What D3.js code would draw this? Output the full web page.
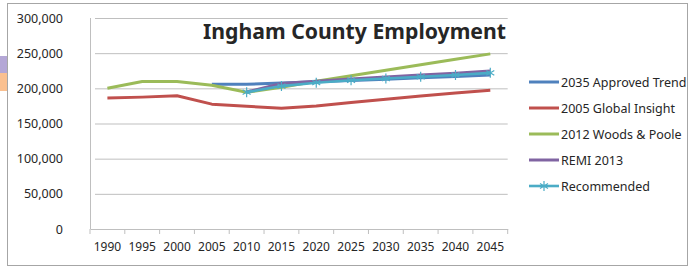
<!DOCTYPE html>
<html>
<head>
<style>
  body {
    margin: 0;
    background-color: #fff;
  }

  text {
    font-family: "Noto Sans", sans-serif;
    fill: #262626;
  }
</style>
  <script src="https://d3js.org/d3.v7.min.js"></script>
</head>
<body>
<script>
// Ingham County Employment - projections by source
const years = [1990, 1995, 2000, 2005, 2010, 2015, 2020, 2025, 2030, 2035, 2040, 2045];
const yTicks = [0, 50000, 100000, 150000, 200000, 250000, 300000];

// null = no value for that year
const approvedTrend = [null, null, null, 205700, 205700, 207500, 209500, 211000, 213000, 215000, 217000, 219000];
const globalInsight = [186300, 187500, 189500, 177500, 174500, 171800, 174800, 180000, 184600, 189000, 193200, 197300];
const woodsPoole = [200000, 209800, 209800, 204500, 194500, 201500, 210000, 218000, 225800, 233500, 241200, 249000];
const remi2013 = [null, null, null, null, 194800, 207000, 210000, 213200, 216000, 218800, 221600, 224500];
const recommended = [null, null, null, null, 194500, 203200, 208000, 211500, 214000, 216500, 219000, 222000];

const series = [
  { name: '2035 Approved Trend', values: approvedTrend, color: '#4f81bd' },
  { name: '2005 Global Insight', values: globalInsight, color: '#c0504d' },
  { name: '2012 Woods & Poole', values: woodsPoole, color: '#9bbb59' },
  { name: 'REMI 2013', values: remi2013, color: '#8064a2' },
  { name: 'Recommended', values: recommended, color: '#4bacc6', marker: true },
];

const width = 690;
const height = 270;
const plot = { left: 90, right: 507.7, top: 18, bottom: 229 };

const svg = d3.select('body')
  .append('svg')
  .attr('width', width)
  .attr('height', height);

// bits of something behind the chart, peeking out on the left
svg.append('rect').attr('x', 0).attr('y', 56).attr('width', 7).attr('height', 17).attr('fill', '#b4a7d6');
svg.append('rect').attr('x', 0).attr('y', 73).attr('width', 7).attr('height', 18).attr('fill', '#fac090');

// chart frame
svg.append('rect')
  .attr('x', 7.5).attr('y', 3.5)
  .attr('width', 680).attr('height', 262)
  .attr('fill', '#fff')
  .attr('stroke', '#a6a6a6');

const x = d3.scaleBand()
  .domain(years)
  .range([plot.left, plot.right]);

const y = d3.scaleLinear()
  .domain([0, 300000])
  .range([plot.bottom, plot.top]);

// gridlines + y labels
const yAxis = svg.append('g')
  .attr('transform', `translate(${plot.left},0)`)
  .call(d3.axisLeft(y)
    .tickValues(yTicks)
    .tickSize(-(plot.right - plot.left))
    .tickFormat(d3.format(',')));

yAxis.select('.domain').remove();
yAxis.selectAll('.tick line')
  .attr('x1', 5)
  .attr('stroke', '#bfbfbf');
yAxis.selectAll('.tick text')
  .attr('x', -27)
  .attr('font-size', 12.5)
  .attr('font-family', '"Noto Sans", sans-serif');

// left axis line
svg.append('line')
  .attr('x1', plot.left + 0.5).attr('x2', plot.left + 0.5)
  .attr('y1', plot.top).attr('y2', plot.bottom)
  .attr('stroke', '#bfbfbf');

// category axis
const xAxis = svg.append('g')
  .attr('transform', `translate(0,${plot.bottom})`)
  .call(d3.axisBottom(x).tickSize(0).tickPadding(13));

xAxis.select('.domain').attr('stroke', '#bfbfbf');
xAxis.selectAll('.tick text')
  .attr('font-size', 12)
  .attr('font-family', '"Noto Sans", sans-serif');

// tick marks sit on the category boundaries
const boundaries = years.map(d => x(d)).concat([x(years[years.length - 1]) + x.bandwidth()]);
svg.append('g')
  .selectAll('line')
  .data(boundaries)
  .join('line')
  .attr('x1', d => d).attr('x2', d => d)
  .attr('y1', plot.bottom).attr('y2', plot.bottom + 5)
  .attr('stroke', '#bfbfbf');

const cx = d => x(d) + x.bandwidth() / 2;

const line = d3.line()
  .defined(d => d.v !== null)
  .x(d => cx(d.year))
  .y(d => y(d.v));

// star marker: vertical stroke + an x
const starPath = (px, py, r) => {
  const k = r * 0.8;
  return `M${px},${py - r}L${px},${py + r}` +
    `M${px - k},${py - k * 0.6}L${px + k},${py + k * 0.6}` +
    `M${px - k},${py + k * 0.6}L${px + k},${py - k * 0.6}`;
};

series.forEach(s => {
  const pts = years.map((year, i) => ({ year, v: s.values[i] }));

  svg.append('path')
    .datum(pts)
    .attr('fill', 'none')
    .attr('stroke', s.color)
    .attr('stroke-width', s.marker ? 2.6 : 3)
    .attr('stroke-linejoin', 'round')
    .attr('d', line);

  if (s.marker) {
    svg.append('g')
      .selectAll('path')
      .data(pts.filter(d => d.v !== null))
      .join('path')
      .attr('d', d => starPath(cx(d.year), y(d.v), 5))
      .attr('stroke', s.color)
      .attr('stroke-width', 1.2)
      .attr('fill', 'none');
  }
});

// title
svg.append('text')
  .attr('x', 203)
  .attr('y', 39)
  .attr('font-size', 22)
  .attr('font-weight', 'bold')
  .attr('font-family', '"Open Sans", sans-serif')
  .attr('textLength', 303)
  .attr('lengthAdjust', 'spacingAndGlyphs')
  .text('Ingham County Employment');

// legend
const legend = svg.append('g');
const legendRow = d3.scalePoint()
  .domain(series.map(s => s.name))
  .range([82, 186]);

series.forEach(s => {
  const ly = legendRow(s.name);
  legend.append('line')
    .attr('x1', 529).attr('x2', 559)
    .attr('y1', ly).attr('y2', ly)
    .attr('stroke', s.color)
    .attr('stroke-width', s.marker ? 2.6 : 3);
  if (s.marker) {
    legend.append('path')
      .attr('d', starPath(544, ly, 5))
      .attr('stroke', s.color)
      .attr('stroke-width', 1.2)
      .attr('fill', 'none');
  }
  legend.append('text')
    .attr('x', 561)
    .attr('y', ly + 4.5)
    .attr('font-size', 12.5)
    .text(s.name);
});
</script>
</body>
</html>
